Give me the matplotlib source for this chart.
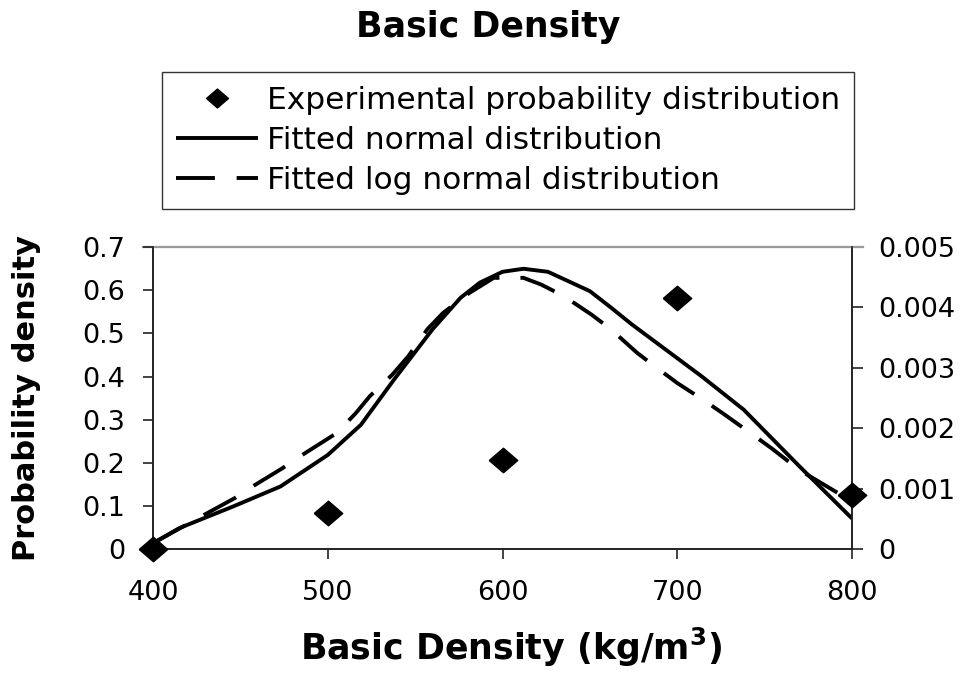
import matplotlib
matplotlib.use("Agg")
import matplotlib.pyplot as plt
from matplotlib.lines import Line2D

plt.rcParams['font.family'] = ['DejaVu Sans']
plt.rcParams['mathtext.fontset'] = 'dejavusans'

# Experimental probability distribution (left axis)
exp_x = [400, 500, 600, 700, 800]
exp_p = [0.0, 0.085, 0.207, 0.583, 0.125]

# Fitted normal distribution (right axis)
norm_x = [400, 415, 446, 473, 500, 519, 538, 560, 576, 587, 600, 612, 626,
          650, 662, 674, 714, 738, 770, 800]
norm_y = [0.00010, 0.00035, 0.00071, 0.00104, 0.00156, 0.00206, 0.00281,
          0.00364, 0.00416, 0.00441, 0.00459, 0.00464, 0.00459, 0.00427,
          0.00400, 0.00372, 0.00286, 0.00231, 0.00137, 0.00051]

# Fitted log normal distribution (right axis)
logn_x = [400, 428, 447, 457, 474, 487, 505, 516, 524, 537, 546, 557, 566,
          581, 595, 612, 622, 635, 651, 662, 677, 687, 700, 716, 727, 743,
          754, 770, 781, 792, 800]
logn_y = [0.00010, 0.00055, 0.00085, 0.00104, 0.00134, 0.00159, 0.00192,
          0.00225, 0.00253, 0.00289, 0.00319, 0.00364, 0.00391, 0.00424,
          0.00449, 0.00449, 0.00438, 0.00419, 0.00388, 0.00364, 0.00325,
          0.00303, 0.00275, 0.00245, 0.00223, 0.00190, 0.00167, 0.00131,
          0.00112, 0.00093, 0.00088]

x_ticks = [400, 500, 600, 700, 800]
left_ticks = [0, 0.1, 0.2, 0.3, 0.4, 0.5, 0.6, 0.7]
left_labels = ['0', '0.1', '0.2', '0.3', '0.4', '0.5', '0.6', '0.7']
right_ticks = [0, 0.001, 0.002, 0.003, 0.004, 0.005]
right_labels = ['0', '0.001', '0.002', '0.003', '0.004', '0.005']

W, H = 976, 677
fig = plt.figure(figsize=(W / 100, H / 100), dpi=100)
ax = fig.add_axes([153 / W, 1 - 549.3 / H, 699 / W, 302.3 / H])
ax2 = ax.twinx()

diamond = [(-1.16, 0), (0, 1), (1.16, 0), (0, -1), (-1.16, 0)]
LW = 2.8
dash = (0, (9.5, 5.4))

ax2.plot(norm_x, norm_y, color='black', lw=LW, solid_capstyle='butt',
         zorder=2)
ax2.plot(logn_x, logn_y, color='black', lw=LW, linestyle=dash,
         dash_capstyle='butt', zorder=2)
ax2.set_zorder(1)
ax.set_zorder(2)
ax.patch.set_visible(False)
ax.plot(exp_x, exp_p, linestyle='none', marker=diamond, markersize=20.5,
        color='black', clip_on=False, zorder=5)

ax.set_xlim(400, 800)
ax.set_ylim(0, 0.7)
ax2.set_ylim(0, 0.005)
ax.set_xticks(x_ticks)
ax.set_xticklabels([str(v) for v in x_ticks])
ax.set_yticks(left_ticks)
ax.set_yticklabels(left_labels)
ax2.set_yticks(right_ticks)
ax2.set_yticklabels(right_labels)

tick_fs = 19.5
ax.tick_params(axis='both', direction='out', length=7.2, width=1.2,
               labelsize=tick_fs, colors='#222222', labelcolor='black')
ax.tick_params(axis='y', pad=13)
ax.tick_params(axis='x', pad=15)
ax2.tick_params(axis='y', direction='out', length=7.6, width=1.2,
                labelsize=tick_fs, colors='#222222', labelcolor='black',
                pad=11)

for a in (ax, ax2):
    for s in ('left', 'right', 'bottom'):
        a.spines[s].set_color('#222222')
        a.spines[s].set_linewidth(1.2)
    a.spines['top'].set_visible(False)
ax.plot([-10 / 699, 1 + 11 / 699], [1, 1], transform=ax.transAxes,
        color='#999999', lw=1.6, clip_on=False, zorder=1)

fig.text(488 / W, 1 - 27 / H, 'Basic Density', ha='center', va='center',
         fontsize=25, fontweight='bold')
fig.text(511 / W, 1 - 647 / H, r'Basic Density (kg/m$^{\mathbf{3}}$)',
         ha='center', va='center', fontsize=25, fontweight='bold')
fig.text(27 / W, 1 - 398 / H, 'Probability density', ha='center',
         va='center', rotation=90, fontsize=22, fontweight='bold')

leg_fs = 22.5
handles = [
    Line2D([], [], linestyle='none', marker=diamond, markersize=15.8,
           color='black'),
    Line2D([], [], color='black', lw=LW, solid_capstyle='butt'),
    Line2D([], [], color='black', lw=LW, linestyle=(0, (10, 5.6)),
           dash_capstyle='butt'),
]
labels = ['Experimental probability distribution',
          'Fitted normal distribution',
          'Fitted log normal distribution']
leg = fig.legend(handles, labels, loc='upper left',
                 bbox_to_anchor=(162 / W, 1 - 72 / H), fontsize=leg_fs,
                 frameon=True, fancybox=False, shadow=False,
                 handlelength=2.62, handletextpad=0.29, borderpad=0.44,
                 labelspacing=0.36, borderaxespad=0)
leg.get_frame().set_edgecolor('black')
leg.get_frame().set_linewidth(1.0)

fig.savefig('out.png', dpi=100)
